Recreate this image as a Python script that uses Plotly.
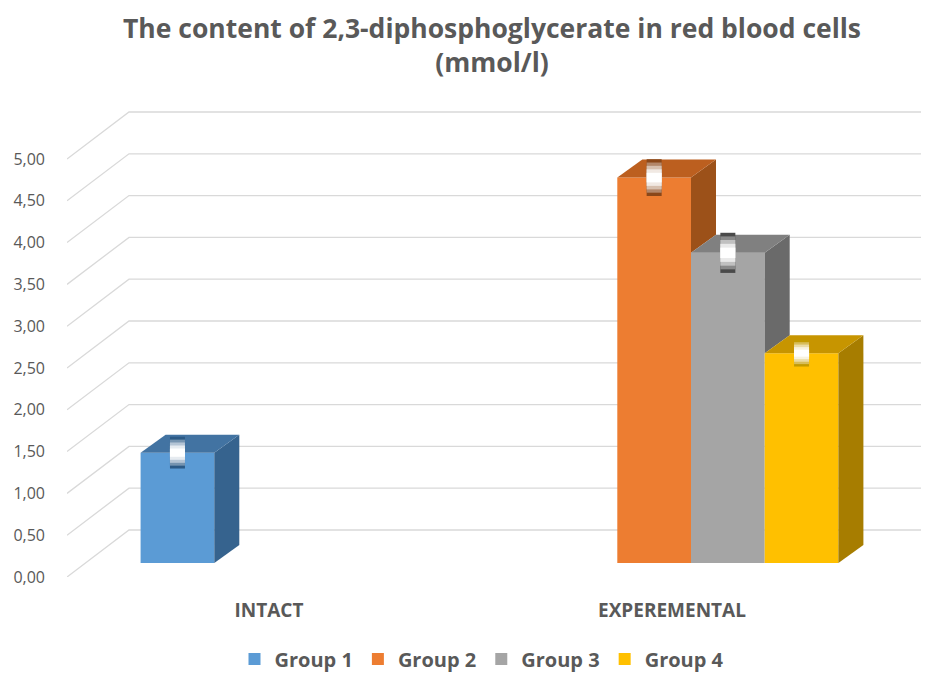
import plotly.graph_objects as go

# ---------------- data ----------------
categories = ["INTACT", "EXPEREMENTAL"]
group_names = ["Group 1", "Group 2", "Group 3", "Group 4"]
group1 = [1.32, None]
group2 = [None, 4.61]
group3 = [None, 3.71]
group4 = [None, 2.51]
err1 = [0.19, None]
err2 = [None, 0.22]
err3 = [None, 0.24]
err4 = [None, 0.16]
y_ticks = [0.0, 0.5, 1.0, 1.5, 2.0, 2.5, 3.0, 3.5, 4.0, 4.5, 5.0]

series = [group1, group2, group3, group4]
errors = [err1, err2, err3, err4]

# ---------------- style ----------------
front_colors = ["#5B9BD5", "#ED7D31", "#A5A5A5", "#FFC000"]
top_colors = ["#4273A2", "#BC5F1F", "#808080", "#C79500"]
side_colors = ["#36638E", "#9C5119", "#6A6A6A", "#A77D00"]
err_dark = ["#2C5A86", "#8A4719", "#4A4A4A", "#C29A00"]
TEXT = "#595959"
GRID = "#D9D9D9"

# pseudo-3D geometry (in axis units)
px_per_cat = 403.0
px_per_val = 83.6
bar_w = 73.7 / px_per_cat
plane_dx = 19 / px_per_cat      # bars sit a bit behind the front edge
plane_dy = 14 / px_per_val
depth_dx = 25 / px_per_cat      # bar depth
depth_dy = 18 / px_per_val
wall_dx = 62 / px_per_cat       # back wall offset
wall_dy = 47 / px_per_val

# page body has an 8px margin: the figure is sized/offset to compensate
PAD = 8
W, H = 929 - PAD, 673 - PAD
ML, MR, MT, MB = 67 - PAD, 0, 100 - PAD, 673 - 577
x0 = (ML - (269 - PAD)) / px_per_cat
x1 = x0 + (W - ML - MR) / px_per_cat
y1 = (H - MT - MB) / px_per_val


def mix(c1, c2, t):
    a = [int(c1[i:i + 2], 16) for i in (1, 3, 5)]
    b = [int(c2[i:i + 2], 16) for i in (1, 3, 5)]
    return "#" + "".join(f"{round(a[k] + (b[k] - a[k]) * t):02x}" for k in range(3))


fig = go.Figure()

n_groups = len(series)
# front faces as bars
for j, (name, vals) in enumerate(zip(group_names, series)):
    xs = [i + plane_dx + (j - (n_groups - 1) / 2) * bar_w for i in range(len(categories))]
    fig.add_trace(go.Bar(
        x=xs, y=vals, base=plane_dy, width=bar_w, name=name,
        marker=dict(color=front_colors[j], line=dict(width=0)),
        hoverinfo="skip",
    ))

# top and side faces
for i in range(len(categories)):
    for j in range(n_groups):
        v = series[j][i]
        if v is None:
            continue
        cx = i + plane_dx + (j - (n_groups - 1) / 2) * bar_w
        l, r = cx - bar_w / 2, cx + bar_w / 2
        top = plane_dy + v
        nxt = series[j + 1][i] if j + 1 < n_groups else None
        nxt_top = plane_dy + nxt if nxt is not None else None
        # side face (clipped by the neighbour in front of it)
        if nxt_top is None or nxt_top < top:
            bot = nxt_top if nxt_top is not None else plane_dy
            fig.add_trace(go.Scatter(
                x=[r, r, r + depth_dx, r + depth_dx, r],
                y=[bot, top, top + depth_dy, bot + depth_dy, bot],
                mode="lines", fill="toself", fillcolor=side_colors[j],
                line=dict(width=0, color=side_colors[j]),
                showlegend=False, hoverinfo="skip"))
        # top face
        if nxt_top is not None and nxt_top > top:
            tx = [l, r, r, l + depth_dx, l]
        else:
            tx = [l, r, r + depth_dx, l + depth_dx, l]
        ty = [top, top, top + depth_dy, top + depth_dy, top]
        fig.add_trace(go.Scatter(
            x=tx, y=ty, mode="lines", fill="toself", fillcolor=top_colors[j],
            line=dict(width=0, color=top_colors[j]),
            showlegend=False, hoverinfo="skip"))

# error bars drawn as shaded cylinders
for i in range(len(categories)):
    for j in range(n_groups):
        v = series[j][i]
        e = errors[j][i]
        if v is None or e is None:
            continue
        cx = i + plane_dx + (j - (n_groups - 1) / 2) * bar_w
        top = plane_dy + v
        for frac, t in [(1.0, 0.0), (0.82, 0.35), (0.64, 0.65), (0.45, 0.88), (0.26, 1.0)]:
            c = mix(err_dark[j], "#FFFFFF", t)
            fig.add_trace(go.Scatter(
                x=[cx, cx], y=[top - e * frac, top + e * frac], mode="lines",
                line=dict(color=c, width=15), showlegend=False, hoverinfo="skip"))

# back-wall gridlines
shapes = []
for t in y_ticks:
    shapes.append(dict(type="path", xref="x", yref="y", layer="below",
                       path=f"M {x0},{t} L {x0 + wall_dx},{t + wall_dy} L {x1},{t + wall_dy}",
                       line=dict(color=GRID, width=1.3)))

fig.update_layout(
    width=W, height=H,
    margin=dict(l=ML, r=MR, t=MT, b=MB, autoexpand=False),
    paper_bgcolor="white", plot_bgcolor="white",
    barmode="overlay",
    separators=", ",
    shapes=shapes,
    font=dict(family="Open Sans", color=TEXT),
    title=dict(
        text="The content of 2,3-diphosphoglycerate in red blood cells<br>(mmol/l)",
        font=dict(family="Open Sans", size=26.5, color=TEXT, weight="bold"),
        x=(492 - PAD) / W, xanchor="center", xref="container",
        y=1 - (38 - PAD) / H, yanchor="top", yref="container",
    ),
    xaxis=dict(range=[x0, x1], tickvals=list(range(len(categories))), ticktext=categories,
               showgrid=False, zeroline=False, showline=False, ticks="",
               ticklabelstandoff=20,
               tickfont=dict(family="Open Sans", size=19, color=TEXT, weight="bold")),
    yaxis=dict(range=[0, y1], tickvals=y_ticks, tickformat=".2f",
               showgrid=False, zeroline=False, showline=False, ticks="",
               ticklabelstandoff=21,
               tickfont=dict(family="Open Sans", size=16, color=TEXT)),
    legend=dict(orientation="h", xref="container", yref="container",
                x=(482 - PAD) / W, xanchor="center", y=1 - (659 - PAD) / H, yanchor="middle",
                font=dict(family="Open Sans", size=20, color=TEXT, weight="bold"),
                itemclick=False, itemdoubleclick=False),
    showlegend=True,
)

fig.write_html("out.html")
